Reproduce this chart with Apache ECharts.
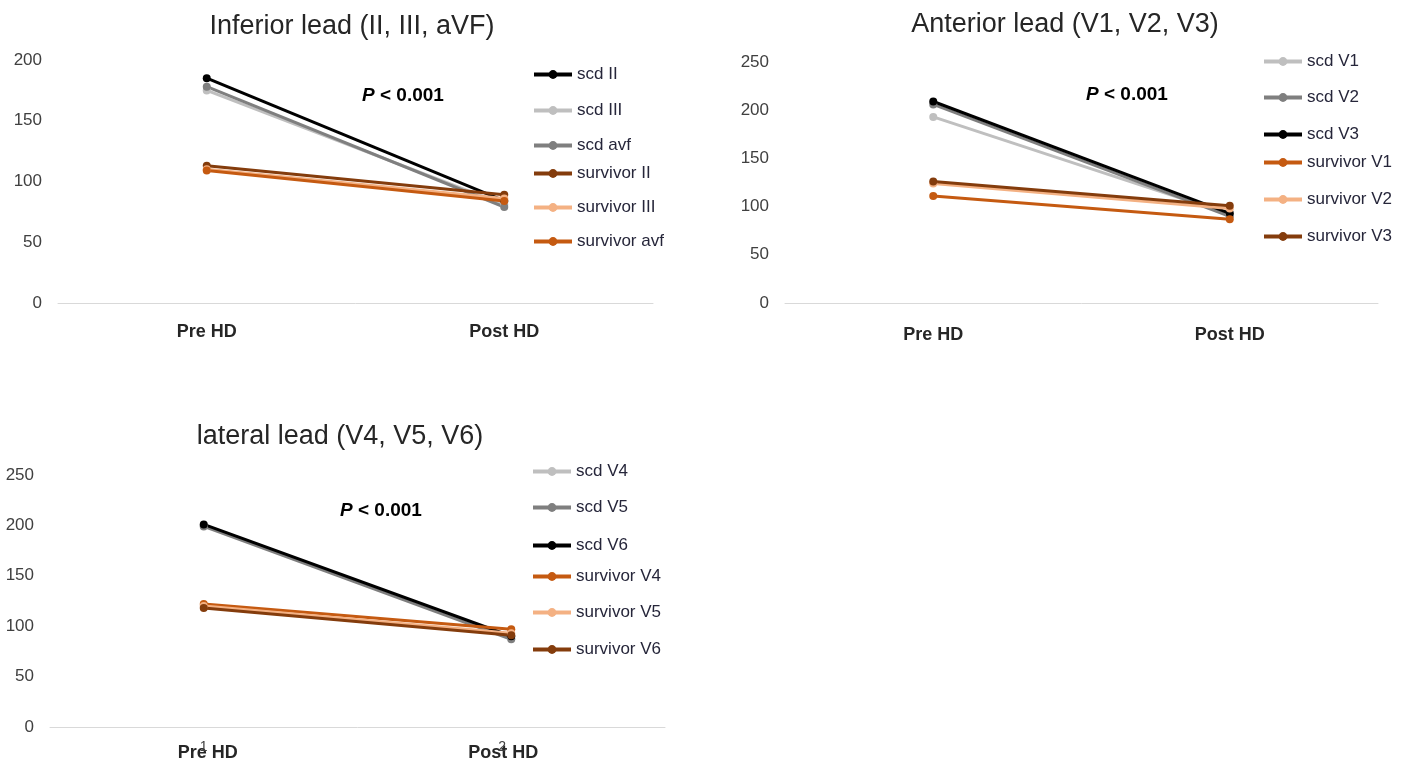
<!DOCTYPE html>
<html><head><meta charset="utf-8">
<script src="https://cdn.jsdelivr.net/npm/echarts@6/dist/echarts.min.js"></script>
<style>html,body{margin:0;padding:0;background:#fff;}#c{width:1413px;height:766px;}</style>
</head><body><div id="c"></div>
<script>
const categories = ['Pre HD', 'Post HD'];
const lateralOverlayTicks = ['1', '2'];
const yTicks1 = [0, 50, 100, 150, 200];
const yTicks23 = [0, 50, 100, 150, 200, 250];

const inferiorNames = ['scd II', 'scd III', 'scd avf', 'survivor II', 'survivor III', 'survivor avf'];
const scdII = [185, 84];
const scdIII = [175, 81];
const scdAvf = [178, 79];
const survivorII = [113, 89];
const survivorIII = [110, 86];
const survivorAvf = [109, 84];

const anteriorNames = ['scd V1', 'scd V2', 'scd V3', 'survivor V1', 'survivor V2', 'survivor V3'];
const scdV1 = [193, 92];
const scdV2 = [206, 90];
const scdV3 = [209, 93];
const survivorV1 = [111, 87];
const survivorV2 = [124, 98];
const survivorV3 = [126, 101];

const lateralNames = ['scd V4', 'scd V5', 'scd V6', 'survivor V4', 'survivor V5', 'survivor V6'];
const scdV4 = [200, 88];
const scdV5 = [199, 87];
const scdV6 = [201, 90];
const survivorV4 = [122, 97];
const survivorV5 = [120, 93];
const survivorV6 = [118, 91];

const C = {black:'#000000', lgray:'#bfbfbf', gray:'#7f7f7f', brown:'#843c0c', lorange:'#f4b183', orange:'#c55a11'};
const FONT = '"Liberation Sans", Arial, sans-serif';

const chart = echarts.init(document.getElementById('c'), null, {renderer:'canvas'});

const grids = [
  {left:58, top:60, width:595, height:243},
  {left:785, top:62, width:593, height:241},
  {left:50, top:475, width:615, height:252}
];

function mkX(gi, margin, shifted){
  const lbl = {margin:margin, fontFamily:FONT, fontSize:18, fontWeight:'bold', color:'#262626'};
  if (shifted) {
    lbl.formatter = v => v === categories[1] ? '{q|' + v + '}' : '{p|' + v + '}';
    lbl.rich = {
      p:{fontFamily:FONT, fontSize:18, fontWeight:'bold', color:'#262626', padding:[0,0,0,8]},
      q:{fontFamily:FONT, fontSize:18, fontWeight:'bold', color:'#262626', padding:[0,16,0,0]}
    };
  }
  return {type:'category', gridIndex:gi, data:categories, boundaryGap:true,
    axisLine:{show:true, lineStyle:{color:'#d9d9d9', width:1}}, axisTick:{show:false},
    axisLabel:lbl};
}
function mkY(gi, max){
  return {type:'value', gridIndex:gi, min:0, max:max, interval:50,
    splitLine:{show:false}, axisLine:{show:false}, axisTick:{show:false},
    axisLabel:{margin:16, fontFamily:FONT, fontSize:17, color:'#404040'}};
}

const xAxes = [mkX(0,20,false), mkX(1,23,false), mkX(2,17,true),
  {type:'category', gridIndex:2, position:'bottom', data:lateralOverlayTicks, boundaryGap:true,
   axisLine:{show:false}, axisTick:{show:false},
   axisLabel:{margin:13, fontFamily:FONT, fontSize:14, color:'#404040',
     formatter: v => v === lateralOverlayTicks[1] ? '{q|' + v + '}' : v,
     rich:{q:{fontFamily:FONT, fontSize:14, color:'#404040', padding:[0,18,0,0]}}}}];
const yAxes = [mkY(0, yTicks1[yTicks1.length-1]), mkY(1, yTicks23[yTicks23.length-1]), mkY(2, yTicks23[yTicks23.length-1])];

const groups = [
  {names:inferiorNames, data:[scdII, scdIII, scdAvf, survivorII, survivorIII, survivorAvf],
   colors:[C.black, C.lgray, C.gray, C.brown, C.lorange, C.orange],
   legendLeft:532, legendTops:[75,111,146,174,208,242]},
  {names:anteriorNames, data:[scdV1, scdV2, scdV3, survivorV1, survivorV2, survivorV3],
   colors:[C.lgray, C.gray, C.black, C.orange, C.lorange, C.brown],
   legendLeft:1262, legendTops:[62,98,135,163,200,237]},
  {names:lateralNames, data:[scdV4, scdV5, scdV6, survivorV4, survivorV5, survivorV6],
   colors:[C.lgray, C.gray, C.black, C.orange, C.lorange, C.brown],
   legendLeft:531, legendTops:[472,508,546,577,613,650]}
];

const series = [];
const legends = [];
groups.forEach((g, gi) => {
  g.names.forEach((n, i) => {
    series.push({type:'line', name:n, xAxisIndex:gi, yAxisIndex:gi, data:g.data[i],
      symbol:'circle', symbolSize:8, showSymbol:true,
      lineStyle:{color:g.colors[i], width:3}, itemStyle:{color:g.colors[i]},
      emphasis:{disabled:true}, animation:false});
    legends.push({data:[n], orient:'vertical', left:g.legendLeft, top:g.legendTops[i]-9,
      padding:0, itemWidth:38, itemHeight:11, itemGap:0,
      lineStyle:{width:4},
      textStyle:{fontFamily:FONT, fontSize:17, color:'#26263a'}});
  });
});

const titles = [
  {text:'Inferior lead (II, III, aVF)', left:352, top:13},
  {text:'Anterior lead (V1, V2, V3)', left:1065, top:11},
  {text:'lateral lead (V4, V5, V6)', left:340, top:423}
].map(t => ({text:t.text, left:t.left, top:t.top, textAlign:'center', padding:0,
  textStyle:{fontFamily:FONT, fontSize:27, fontWeight:'normal', color:'#262626'}}));

function pText(x, y){
  return {type:'text', left:x, top:y-10, z:10,
    style:{text:'{i|P}{b| < 0.001}', rich:{
      i:{fontFamily:FONT, fontSize:19, fontWeight:'bold', fontStyle:'italic', fill:'#000'},
      b:{fontFamily:FONT, fontSize:19, fontWeight:'bold', fill:'#000'}}}};
}

chart.setOption({
  backgroundColor:'#ffffff',
  animation:false,
  title:titles,
  grid:grids,
  xAxis:xAxes,
  yAxis:yAxes,
  legend:legends,
  series:series,
  graphic:[pText(362,96), pText(1086,95), pText(340,511)]
});
</script></body></html>
